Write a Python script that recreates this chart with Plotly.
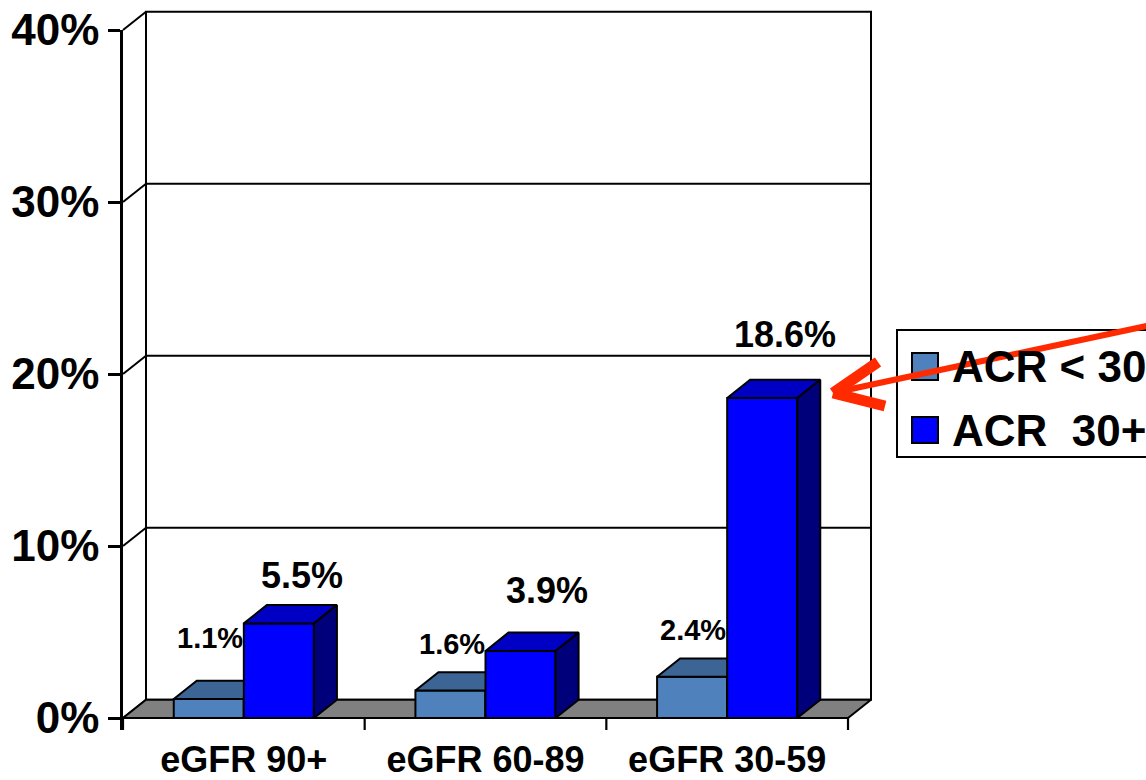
import plotly.graph_objects as go

# ---- data -------------------------------------------------------------
categories = ["eGFR 90+", "eGFR 60-89", "eGFR 30-59"]
series_names = ["ACR < 30", "ACR\u00a0 30+"]
acr_under_30 = [1.1, 1.6, 2.4]
acr_30_plus = [5.5, 3.9, 18.6]
y_ticks = [0, 10, 20, 30, 40]
y_tick_labels = ["0%", "10%", "20%", "30%", "40%"]

# ---- geometry / style -------------------------------------------------
W, H = 1146, 780
X0_PX = 123.0      # pixel of x = -0.5 (front y axis)
CAT_PX = 241.67    # pixels per category
Y0_PX = 718.0      # pixel of 0 %
PCT_PX = 17.2      # pixels per percent
DEPTH_X = 23.0 / CAT_PX    # 3-D depth offset, in data units
DEPTH_Y = 18.3 / PCT_PX
BAR_W = 0.29
Y_MAX = 40

FONT = "Liberation Sans, Arial, Helvetica, sans-serif"
LIGHT = dict(front="#4F81BD", top="#3C6494", side="#2C4A70")
BLUE = dict(front="#0000FF", top="#0000C4", side="#00007A")
FLOOR = "#808080"
ARROW = "#FF2A00"

# label nudges (pixels) for the value labels
big_yshift = [30, 42, 45]
big_xshift = [0, 3, 0]
small_yshift = [43, 28, 28]


def xd(px):
    return -0.5 + (px - X0_PX) / CAT_PX


def yd(py):
    return (Y0_PX - py) / PCT_PX


def fx(px):
    return px / W


def fy(py):
    return 1 - py / H


fig = go.Figure()


def poly(xs, ys, fill=None, width=2.0, color="black"):
    fig.add_trace(go.Scatter(
        x=list(xs) + [xs[0]] if fill else list(xs),
        y=list(ys) + [ys[0]] if fill else list(ys),
        mode="lines",
        fill="toself" if fill else None,
        fillcolor=fill,
        line=dict(color=color, width=width),
        hoverinfo="skip", showlegend=False,
        xaxis="x", yaxis="y",
    ))


x_left, x_right = -0.5, len(categories) - 0.5

# back wall (white) with gridlines
poly([x_left + DEPTH_X, x_right + DEPTH_X, x_right + DEPTH_X, x_left + DEPTH_X],
     [DEPTH_Y, DEPTH_Y, Y_MAX + DEPTH_Y, Y_MAX + DEPTH_Y], fill="white", width=2)
for v in y_ticks[1:-1]:
    poly([x_left + DEPTH_X, x_right + DEPTH_X], [v + DEPTH_Y, v + DEPTH_Y], width=2)

# side wall diagonals from the front axis to the back wall
for v in y_ticks:
    poly([x_left, x_left + DEPTH_X], [v, v + DEPTH_Y], width=2)

# floor
poly([x_left, x_right, x_right + DEPTH_X, x_left + DEPTH_X],
     [0, 0, DEPTH_Y, DEPTH_Y], fill=FLOOR, width=2)

# category separators below the floor
for i in range(len(categories) + 1):
    xv = x_left + i
    poly([xv, xv], [0, yd(730)], width=2.2)


def bar3d(x0, x1, v, col):
    # front face
    poly([x0, x1, x1, x0], [0, 0, v, v], fill=col["front"])
    # top face
    poly([x0, x1, x1 + DEPTH_X, x0 + DEPTH_X], [v, v, v + DEPTH_Y, v + DEPTH_Y], fill=col["top"])
    # right side face
    poly([x1, x1 + DEPTH_X, x1 + DEPTH_X, x1], [0, DEPTH_Y, v + DEPTH_Y, v], fill=col["side"])


annotations = []
for i, cat in enumerate(categories):
    c = float(i)
    bar3d(c - BAR_W, c, acr_under_30[i], LIGHT)
    bar3d(c, c + BAR_W, acr_30_plus[i], BLUE)
    # value labels
    annotations.append(dict(
        x=c + BAR_W / 2 + DEPTH_X, y=acr_30_plus[i] + DEPTH_Y, xref="x", yref="y",
        text=f"{acr_30_plus[i]:.1f}%", showarrow=False, xanchor="center", yanchor="middle",
        yshift=big_yshift[i], xshift=big_xshift[i],
        font=dict(family=FONT, size=36, color="black", weight="bold"),
    ))
    annotations.append(dict(
        x=c, y=acr_under_30[i] + DEPTH_Y, xref="x", yref="y",
        text=f"{acr_under_30[i]:.1f}%", showarrow=False, xanchor="right", yanchor="middle",
        yshift=small_yshift[i], xshift=1,
        font=dict(family=FONT, size=29, color="black", weight="bold"),
    ))

# empty trace so the axis subplot is created
fig.add_trace(go.Scatter(x=[None], y=[None], xaxis="x2", yaxis="y2",
                         showlegend=False, hoverinfo="skip"))

# legend box (drawn by hand)
shapes = [
    dict(type="rect", xref="paper", yref="paper", x0=fx(897), x1=fx(1160), y0=fy(457), y1=fy(330),
         line=dict(color="black", width=2), fillcolor="white", layer="above"),
    dict(type="rect", xref="paper", yref="paper", x0=fx(912), x1=fx(938), y0=fy(380), y1=fy(353),
         line=dict(color="black", width=2), fillcolor=LIGHT["front"], layer="above"),
    dict(type="rect", xref="paper", yref="paper", x0=fx(912), x1=fx(938), y0=fy(443), y1=fy(417),
         line=dict(color="black", width=2), fillcolor=BLUE["front"], layer="above"),
]
for name, cy in zip(series_names, [366, 430]):
    annotations.append(dict(
        x=fx(950), y=fy(cy), xref="paper", yref="paper", text=name, showarrow=False,
        xanchor="left", yanchor="middle",
        font=dict(family=FONT, size=44, color="black", weight="bold"),
    ))

# red arrow pointing at the tallest bar
tip = (833, 393)
shapes += [
    dict(type="line", xref="paper", yref="paper", x0=fx(tip[0] + 4), y0=fy(tip[1] - 1),
         x1=fx(1170), y1=fy(321), line=dict(color=ARROW, width=6), layer="above"),
    dict(type="line", xref="paper", yref="paper", x0=fx(tip[0]), y0=fy(tip[1]),
         x1=fx(878), y1=fy(362), line=dict(color=ARROW, width=11), layer="above"),
    dict(type="line", xref="paper", yref="paper", x0=fx(tip[0]), y0=fy(tip[1]),
         x1=fx(885), y1=fy(406), line=dict(color=ARROW, width=11), layer="above"),
]

# drawing subplot spans a wide pixel region
DX0, DX1, DY0, DY1 = 90, 910, 0, 770
# axis subplot: front axes
AX0, AX1, AY0, AY1 = X0_PX, X0_PX + CAT_PX * len(categories), 30, 730

fig.update_layout(
    width=W, height=H,
    margin=dict(l=0, r=0, t=0, b=0, autoexpand=False),
    paper_bgcolor="white", plot_bgcolor="rgba(0,0,0,0)",
    showlegend=False,
    xaxis=dict(domain=[fx(DX0), fx(DX1)], range=[xd(DX0), xd(DX1)], visible=False,
               anchor="y", automargin=False),
    yaxis=dict(domain=[fy(DY1), fy(DY0)], range=[yd(DY1), yd(DY0)], visible=False,
               anchor="x", automargin=False),
    xaxis2=dict(domain=[fx(AX0), fx(AX1)], range=[xd(AX0), xd(AX1)], anchor="y2",
                tickvals=list(range(len(categories))), ticktext=categories,
                ticks="", showline=False, showgrid=False, zeroline=False,
                ticklabelstandoff=5, automargin=False,
                tickfont=dict(family=FONT, size=36, color="black", weight="bold")),
    yaxis2=dict(domain=[fy(AY1), fy(AY0)], range=[yd(AY1), yd(AY0)], anchor="x2",
                tickvals=y_ticks, ticktext=y_tick_labels,
                ticks="outside", ticklen=12, tickwidth=2.5, tickcolor="black",
                showline=True, linewidth=2.5, linecolor="black",
                showgrid=False, zeroline=False, ticklabelstandoff=0, automargin=False,
                tickfont=dict(family=FONT, size=44, color="black", weight="bold")),
    shapes=shapes,
    annotations=annotations,
)

fig.write_html("out.html")
